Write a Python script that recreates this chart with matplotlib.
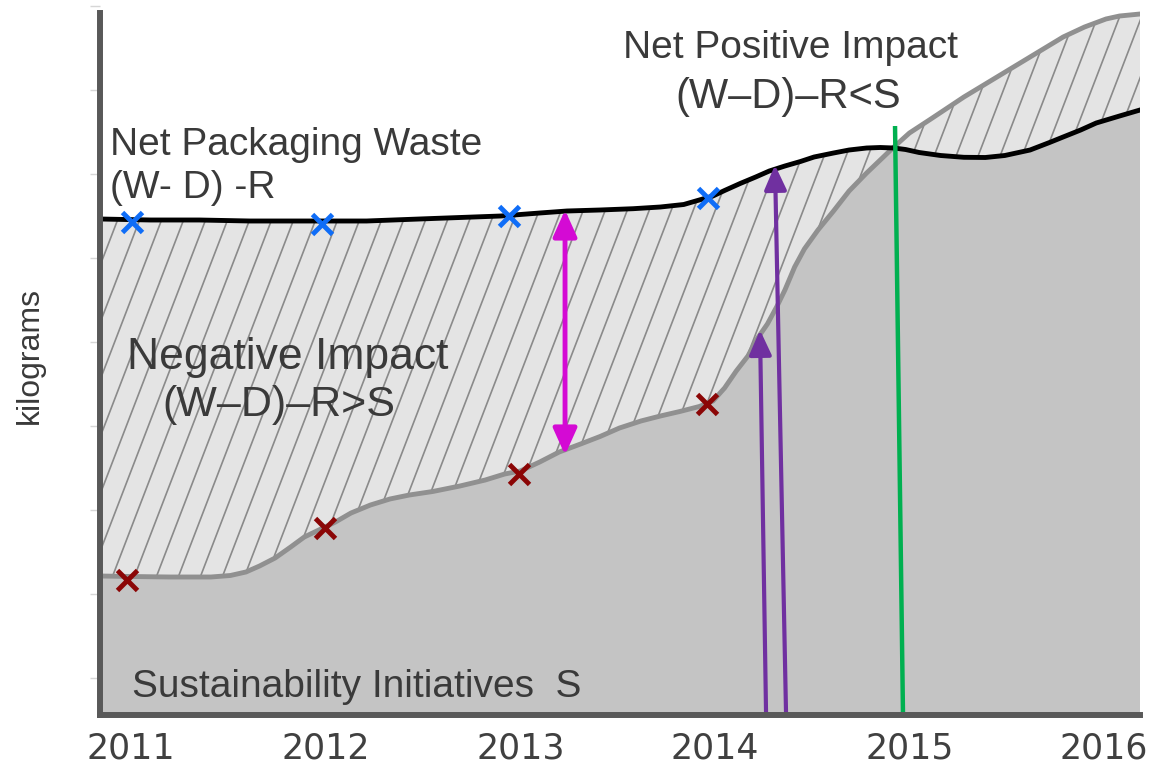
#!/usr/bin/env python3
# Net packaging waste vs sustainability initiatives (schematic chart)
import matplotlib
matplotlib.use('Agg')
import matplotlib.pyplot as plt
import numpy as np
from matplotlib.collections import LineCollection
from matplotlib.patches import FancyArrowPatch, Polygon

# data (x in years, y in arbitrary kg units)
# net packaging waste (W-D)-R, the black curve
waste_years = [2010.84, 2011.10, 2011.35, 2011.61, 2011.87, 2012.21, 2012.55,
               2012.90, 2013.10, 2013.24, 2013.41, 2013.58, 2013.72, 2013.84,
               2013.92, 2013.99, 2014.05, 2014.13, 2014.21, 2014.28, 2014.36,
               2014.44, 2014.51, 2014.61, 2014.69, 2014.78, 2014.85, 2014.92,
               2014.98, 2015.05, 2015.16, 2015.28, 2015.39, 2015.49, 2015.62,
               2015.72, 2015.79, 2015.88, 2015.96, 2016.08, 2016.185]
net_waste = [459, 458, 458, 457, 457, 457, 459.5, 462, 465, 467, 468, 469.3,
             471, 473.5, 478, 482, 487.5, 494.5, 501, 507, 512, 516.5, 521,
             525, 528, 530, 530.5, 530, 528.5, 525.5, 522.5, 520.7, 520.5,
             522.5, 528, 535.5, 541, 548, 555, 562, 568]

# sustainability initiatives S, the grey curve
sust_years = [2010.84, 2011.00, 2011.20, 2011.41, 2011.51, 2011.59, 2011.66,
              2011.74, 2011.82, 2011.89, 2011.97, 2012.05, 2012.13, 2012.23,
              2012.33, 2012.43, 2012.55, 2012.69, 2012.82, 2012.92, 2013.00,
              2013.10, 2013.20, 2013.31, 2013.41, 2013.51, 2013.62, 2013.72,
              2013.82, 2013.92, 2013.99, 2014.05, 2014.11, 2014.17, 2014.22,
              2014.27, 2014.32, 2014.36, 2014.41, 2014.46, 2014.53, 2014.61,
              2014.69, 2014.78, 2014.85, 2014.92, 2015.00, 2015.11, 2015.28,
              2015.45, 2015.62, 2015.79, 2015.90, 2016.01, 2016.08, 2016.185]
sustain = [102, 101.5, 101, 101, 102.5, 106, 112, 120, 131, 141, 148.5, 156,
           165, 173, 179, 183, 186.5, 192, 198, 204, 207, 216, 226, 234,
           241.5, 250, 257, 262, 266.5, 271.5, 277, 290, 307, 322, 340, 354,
           372, 388, 411, 429, 448, 467, 487, 505, 518, 531, 545, 559, 581,
           601, 621, 641, 651, 659, 662, 664]

waste_pts_x = [2011.005, 2011.98, 2012.94, 2013.965]
waste_pts_y = [456, 454, 462, 480]
sust_pts_x = [2010.98, 2011.997, 2012.994, 2013.96]
sust_pts_y = [98, 150, 204, 274]

tick_years = [2011, 2012, 2013, 2014, 2015, 2016]

# arrows / marker line: (x_start, y_start, x_end, y_end)
gap_arrow = (2013.23, 223, 2013.23, 468)
s_arrow = (2014.263, -34, 2014.232, 348)
w_arrow = (2014.366, -37, 2014.309, 513)
cross_line = (2014.967, -38, 2014.926, 552)

TXT = '#3a3a3a'
FONT = ['Liberation Sans', 'DejaVu Sans']


def px_year(p):
    # horizontal pixel of the reference -> year
    return 2011 + (p - 131) / 194.6


def main():
    fig = plt.figure(figsize=(11.59, 7.67), dpi=100)
    ax = fig.add_axes([100 / 1159, 52 / 767, 1040 / 1159, 710 / 767])
    ymin, ymax = -37, 673
    xmin, xmax = 2010.84, 2016.185
    ax.set_xlim(xmin, xmax)
    ax.set_ylim(ymin, ymax)

    wx, wy = np.array(waste_years), np.array(net_waste)
    sx, sy = np.array(sust_years), np.array(sustain)

    # dark fill below both curves: each area clipped by the other one
    under_w = Polygon(np.column_stack([np.r_[wx[0], wx, wx[-1]],
                                       np.r_[ymin, wy, ymin]]),
                      closed=True, transform=ax.transData)
    under_s = Polygon(np.column_stack([np.r_[sx[0], sx, sx[-1]],
                                       np.r_[ymin, sy, ymin]]),
                      closed=True, transform=ax.transData)
    dark_s = ax.fill_between(sx, ymin, sy, color='#c4c4c4', lw=0, zorder=1)
    dark_s.set_clip_path(under_w)
    dark_w = ax.fill_between(wx, ymin, wy, color='#c4c4c4', lw=0, zorder=1)
    dark_w.set_clip_path(under_s)

    # light band between the two curves
    band = ax.fill(np.r_[wx, sx[::-1]], np.r_[wy, sy[::-1]],
                   color='#e4e4e4', lw=0, zorder=2)[0]

    # steep diagonal hatch inside the band
    step = 22 / 194.6
    run = 710 / 2.6 / 194.6
    segs = [[(x0, ymin), (x0 + run, ymax)]
            for x0 in np.arange(xmin - run - 0.05, xmax + 0.1, step)]
    lc = LineCollection(segs, colors='#8a8a8a', linewidths=1.2, zorder=3)
    ax.add_collection(lc)
    lc.set_clip_path(band)

    ax.plot(sx, sy, color='#909090', lw=3.5, zorder=4,
            solid_joinstyle='round')
    ax.plot(wx, wy, color='black', lw=3.5, zorder=5,
            solid_joinstyle='round')

    ax.plot(waste_pts_x, waste_pts_y, 'x', color='#0f6df7', ms=14, mew=3.5,
            zorder=6)
    ax.plot(sust_pts_x, sust_pts_y, 'x', color='#8b0606', ms=14, mew=3.5,
            zorder=6)

    def arrow(c, style, color, scale, lw):
        a = FancyArrowPatch((c[0], c[1]), (c[2], c[3]), arrowstyle=style,
                            mutation_scale=scale, color=color, lw=lw,
                            shrinkA=0, shrinkB=0, zorder=7)
        ax.add_patch(a)

    arrow(gap_arrow, '<|-|>,head_length=1.0,head_width=0.45', '#d40ad4', 16, 3.5)
    arrow(s_arrow, '-|>,head_length=1.0,head_width=0.45', '#7030a0', 15, 3)
    arrow(w_arrow, '-|>,head_length=1.0,head_width=0.45', '#7030a0', 15, 3)
    ax.plot([cross_line[0], cross_line[2]], [cross_line[1], cross_line[3]],
            color='#00b050', lw=3.2, zorder=7, solid_capstyle='butt')

    # labels
    ax.text(px_year(110), 678 - 145, 'Net Packaging Waste',
            fontsize=28, color=TXT, family=FONT, va='center', ha='left')
    ax.text(px_year(110), 678 - 188, '(W- D) -R',
            fontsize=28, color=TXT, family=FONT, va='center', ha='left')
    ax.text(px_year(288), 678 - 358, 'Negative Impact',
            fontsize=32, color=TXT, family=FONT, va='center', ha='center',
            zorder=8)
    ax.text(px_year(279), 678 - 405, '(W\u2013D)\u2013R>S',
            fontsize=31, color=TXT, family=FONT, va='center', ha='center',
            zorder=8)
    ax.text(px_year(790), 678 - 48, 'Net Positive Impact',
            fontsize=28, color=TXT, family=FONT, va='center', ha='center')
    ax.text(px_year(788), 678 - 97, '(W\u2013D)\u2013R<S',
            fontsize=30, color=TXT, family=FONT, va='center', ha='center')
    ax.text(px_year(132), 678 - 687, 'Sustainability Initiatives  S',
            fontsize=28, color=TXT, family=FONT, va='center', ha='left',
            zorder=8)

    fig.text(30 / 1159, 1 - 355 / 767, 'kilograms', rotation=90,
             fontsize=23, color=TXT, family=FONT, va='center', ha='center')

    # axes styling
    for side in ['top', 'right']:
        ax.spines[side].set_visible(False)
    for side in ['left', 'bottom']:
        ax.spines[side].set_color('#595959')
        ax.spines[side].set_linewidth(4.3)
        ax.spines[side].set_zorder(9)
    ax.spines['left'].set_bounds(ymin, 665)
    ax.set_yticks(np.arange(0, 673, 84))
    ax.tick_params(axis='y', direction='out', length=7, width=1,
                   color='#d6d6d6', labelleft=False)
    ax.set_xticks(tick_years)
    ax.set_xticklabels([str(t) for t in tick_years])
    ax.tick_params(axis='x', length=0, pad=12, labelsize=25,
                   labelcolor='#404040')

    fig.savefig('out.png', dpi=100)


if __name__ == "__main__":
    main()
